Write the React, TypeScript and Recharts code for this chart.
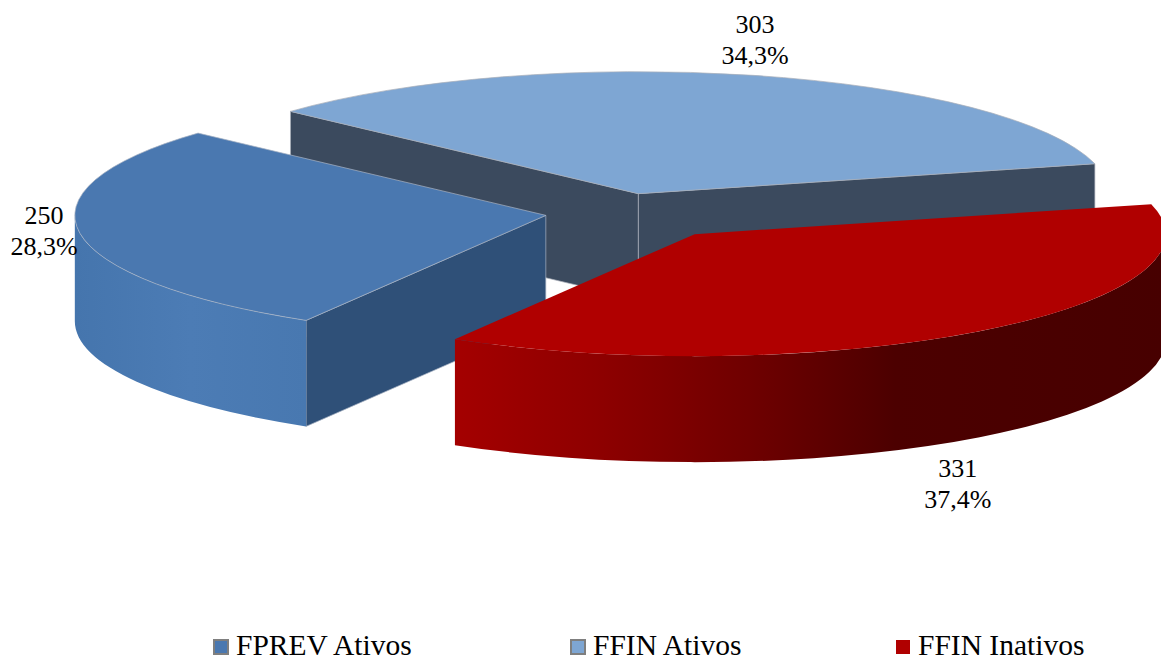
import React from 'react';
import { PieChart, Pie, Legend } from 'recharts';

const categories = ['FPREV Ativos', 'FFIN Ativos', 'FFIN Inativos'];
const counts = [250, 303, 331];
const colors = ['#4A78B0', '#7EA6D3', '#B00000'];
// back slice first, so the slices in front paint over its walls
const drawOrder = [1, 0, 2];

const total = counts.reduce((a, b) => a + b, 0);
const pieData = drawOrder.map((i) => ({ name: categories[i], value: counts[i], color: colors[i] }));

const W = 1161;
const H = 659;
const CX = 620;
const CY = 212.5;
const RX = 471;
const RY = 122;
const DEPTH = 106;
const K = RY / RX;
const rad = Math.PI / 180;
const SERIF = '"Liberation Serif", "Times New Roman", "DejaVu Serif", serif';

const explode: Record<string, { d: number; turn: number }> = {
  'FPREV Ativos': { d: 75, turn: 0 },
  'FFIN Ativos': { d: 75, turn: 0 },
  'FFIN Inativos': { d: 112, turn: 5 },
};

const sides: Record<string, { wall: string; front: [number, string][]; edge: string }> = {
  'FPREV Ativos': {
    wall: '#2F5078',
    front: [[0, '#4575AD'], [0.5, '#4C7CB5'], [1, '#4878B0']],
    edge: 'rgba(170,180,195,0.7)',
  },
  'FFIN Ativos': {
    wall: '#3B4A5E',
    front: [[0, '#3B4A5E'], [1, '#3B4A5E']],
    edge: 'rgba(170,175,185,0.7)',
  },
  'FFIN Inativos': {
    wall: '#5A0000',
    front: [[0, '#A40000'], [0.2, '#8E0000'], [0.42, '#6E0000'], [0.62, '#4C0000'], [1, '#470000']],
    edge: 'none',
  },
};

// label position relative to the rim point at the slice's mid angle
const labelNudge: Record<string, [number, number]> = {
  'FPREV Ativos': [-36, -9],
  'FFIN Ativos': [2, -42],
  'FFIN Inativos': [-19, 145],
};

const vertexOf = (name: string, cx: number, cy: number, mid: number) => {
  const e = explode[name];
  const a = (mid + e.turn) * rad;
  return [cx + e.d * Math.cos(a), cy - e.d * K * Math.sin(a)];
};

const rimPt = (vx: number, vy: number, r: number, deg: number) => [
  vx + r * Math.cos(deg * rad),
  vy - r * K * Math.sin(deg * rad),
];

const Slice3D = (props: any) => {
  const { cx, cy, outerRadius, startAngle, endAngle, midAngle } = props;
  const name = props.payload?.name ?? props.name;
  const fill = props.payload?.color ?? props.fill;
  const r = outerRadius;
  const ry = r * K;
  const a1 = Math.min(startAngle, endAngle);
  const a2 = Math.max(startAngle, endAngle);
  const [vx, vy] = vertexOf(name, cx, cy, midAngle);
  const p1 = rimPt(vx, vy, r, a1);
  const p2 = rimPt(vx, vy, r, a2);
  const side = sides[name];
  const gid = 'front-' + name.replace(/\s/g, '');

  const radialWall = (p: number[]) =>
    `M${vx},${vy} L${p[0]},${p[1]} L${p[0]},${p[1] + DEPTH} L${vx},${vy + DEPTH} Z`;

  const fronts: string[] = [];
  let minX = Infinity;
  let maxX = -Infinity;
  for (let k = -1; k <= 1; k++) {
    const s = Math.max(a1, 180 + 360 * k);
    const e = Math.min(a2, 360 + 360 * k);
    if (e - s > 0.01) {
      const ps = rimPt(vx, vy, r, s);
      const pe = rimPt(vx, vy, r, e);
      const large = e - s > 180 ? 1 : 0;
      fronts.push(
        `M${ps[0]},${ps[1]} A${r},${ry} 0 ${large} 0 ${pe[0]},${pe[1]} ` +
          `L${pe[0]},${pe[1] + DEPTH} A${r},${ry} 0 ${large} 1 ${ps[0]},${ps[1] + DEPTH} Z`
      );
      minX = Math.min(minX, ps[0], pe[0]);
      maxX = Math.max(maxX, ps[0], pe[0]);
    }
  }

  const large = a2 - a1 > 180 ? 1 : 0;
  const top = `M${vx},${vy} L${p1[0]},${p1[1]} A${r},${ry} 0 ${large} 0 ${p2[0]},${p2[1]} Z`;

  return (
    <g>
      <defs>
        <linearGradient id={gid} gradientUnits="userSpaceOnUse" x1={minX} x2={maxX} y1={0} y2={0}>
          {side.front.map(([o, c]) => (
            <stop key={o} offset={o} stopColor={c} />
          ))}
        </linearGradient>
      </defs>
      {Math.cos(a1 * rad) > 0 && (
        <path d={radialWall(p1)} fill={side.wall} stroke={side.edge} strokeWidth={1} />
      )}
      {Math.cos(a2 * rad) < 0 && (
        <path d={radialWall(p2)} fill={side.wall} stroke={side.edge} strokeWidth={1} />
      )}
      {fronts.map((d, i) => (
        <path key={i} d={d} fill={`url(#${gid})`} stroke="none" />
      ))}
      <path d={top} fill={fill} stroke={side.edge} strokeWidth={1} />
    </g>
  );
};

const renderLabel = (props: any) => {
  const { cx, cy, midAngle, outerRadius, value } = props;
  const name = props.payload?.name ?? props.name;
  const [vx, vy] = vertexOf(name, cx, cy, midAngle);
  const [rx, ry] = rimPt(vx, vy, outerRadius, midAngle);
  const [dx, dy] = labelNudge[name];
  const pct = ((value / total) * 100).toFixed(1).replace('.', ',') + '%';
  return (
    <text
      x={rx + dx}
      y={ry + dy}
      textAnchor="middle"
      style={{ fontFamily: SERIF, fontSize: 26 }}
      fill="#000"
    >
      <tspan x={rx + dx} y={ry + dy}>{value}</tspan>
      <tspan x={rx + dx} y={ry + dy + 31}>{pct}</tspan>
    </text>
  );
};

const legendX = [213, 570, 895];

const renderLegend = () => (
  <svg width={W} height={38} style={{ display: 'block', overflow: 'visible' }}>
    {categories.map((c, i) => (
      <g key={c}>
        <rect
          x={legendX[i] + 1}
          y={20}
          width={14}
          height={14}
          fill={colors[i]}
          stroke={i < 2 ? '#7F7F7F' : 'none'}
          strokeWidth={2}
        />
        <text x={legendX[i] + 23} y={35} style={{ fontFamily: SERIF, fontSize: 29.5 }} fill="#000">
          {c}
        </text>
      </g>
    ))}
  </svg>
);

export default function App() {
  return (
    <div style={{ position: 'absolute', left: 0, top: 0, width: W, height: H, background: '#fff' }}>
      <PieChart width={W} height={H} margin={{ top: 0, right: 0, bottom: 0, left: 0 }}>
        <Pie
          data={pieData}
          dataKey="value"
          nameKey="name"
          cx={CX}
          cy={CY}
          outerRadius={RX}
          startAngle={14.2}
          endAngle={374.2}
          paddingAngle={0}
          stroke="none"
          shape={Slice3D}
          inactiveShape={Slice3D}
          activeShape={Slice3D}
          label={renderLabel}
          labelLine={false}
          isAnimationActive={false}
        />
        <Legend
          content={renderLegend}
          wrapperStyle={{ left: 0, top: 620, width: W, height: 38 }}
        />
      </PieChart>
    </div>
  );
}
